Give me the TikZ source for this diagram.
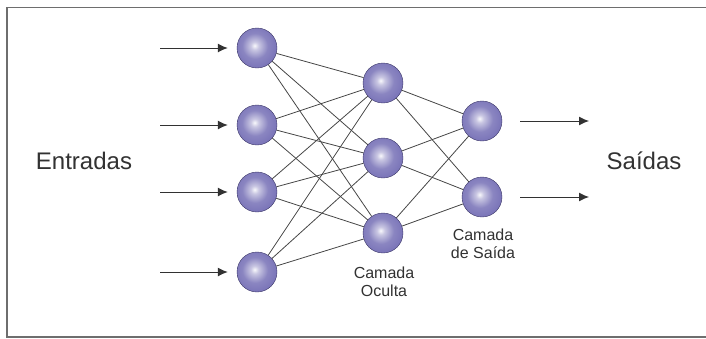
\documentclass[tikz,border=0pt]{standalone}
\usepackage{fontspec}
\setmainfont{Liberation Sans}
\usetikzlibrary{arrows.meta}

% sphere colours
\definecolor{sph}{RGB}{118,112,182}
\definecolor{sphdark}{RGB}{60,56,104}
\definecolor{wire}{RGB}{70,70,70}
\definecolor{ink}{RGB}{50,50,50}
\definecolor{framec}{RGB}{110,110,110}

\pgfdeclareradialshading{neuronball}{\pgfpoint{-3bp}{3bp}}{%
  color(0bp)=(white!95!sph);
  color(5bp)=(white!60!sph);
  color(16bp)=(sph!85!white);
  color(30bp)=(sph);
  color(44bp)=(sph!85!black);
  color(52bp)=(sphdark);
  color(100bp)=(sphdark)}

\tikzset{
  neuron/.style={circle, minimum size=40pt, inner sep=0pt,
                 shading=neuronball, draw=sphdark, line width=0.4pt},
  link/.style={draw=wire, line width=0.8pt},
  signal/.style={draw=ink, line width=1pt,
                 -{Latex[length=10pt,width=9pt]}},
  biglabel/.style={text=ink, font=\fontsize{24}{28}\selectfont},
  smalllabel/.style={text=ink, align=center,
                     font=\fontsize{16}{18}\selectfont},
}

\begin{document}
\begin{tikzpicture}[x=1pt, y=-1pt]
  \useasboundingbox (0,0) rectangle (706,338);
  \begin{scope}
    \clip (0,0) rectangle (706,338);
    \draw[framec, line width=1.5pt] (7,7.5) rectangle (720,337);
  \end{scope}

  % input layer
  \node[neuron] (i1) at (257,48) {};
  \node[neuron] (i2) at (257,125) {};
  \node[neuron] (i3) at (257,192) {};
  \node[neuron] (i4) at (257,272) {};

  % hidden layer
  \node[neuron] (h1) at (383,83) {};
  \node[neuron] (h2) at (383,158) {};
  \node[neuron] (h3) at (383,233) {};

  % output layer
  \node[neuron] (o1) at (482,121) {};
  \node[neuron] (o2) at (482,197) {};

  % connections between layers
  \foreach \a in {i1,i2,i3,i4}
    \foreach \b in {h1,h2,h3}
      \path[link] (\a) -- (\b);
  \foreach \a in {h1,h2,h3}
    \foreach \b in {o1,o2}
      \path[link] (\a) -- (\b);

  % input signals
  \coordinate (s1) at (160,48);
  \coordinate (s2) at (160,125);
  \coordinate (s3) at (160,192);
  \coordinate (s4) at (160,272);
  \foreach \k in {1,2,3,4}
    \draw[signal, shorten >=9pt] (s\k) -- (i\k.west);

  % output signals
  \coordinate (t1) at (589,121);
  \coordinate (t2) at (589,197);
  \foreach \k in {1,2}
    \draw[signal, shorten <=18pt] (o\k.east) -- (t\k);

  % labels
  \node[biglabel] (lin) at (84,161) {Entradas};
  \node[biglabel] (lout) at (644,161) {Saídas};
  \node[smalllabel] (lhid) at (384,282) {Camada\\Oculta};
  \node[smalllabel] (lsai) at (483,244) {Camada\\de Saída};
\end{tikzpicture}
\end{document}
